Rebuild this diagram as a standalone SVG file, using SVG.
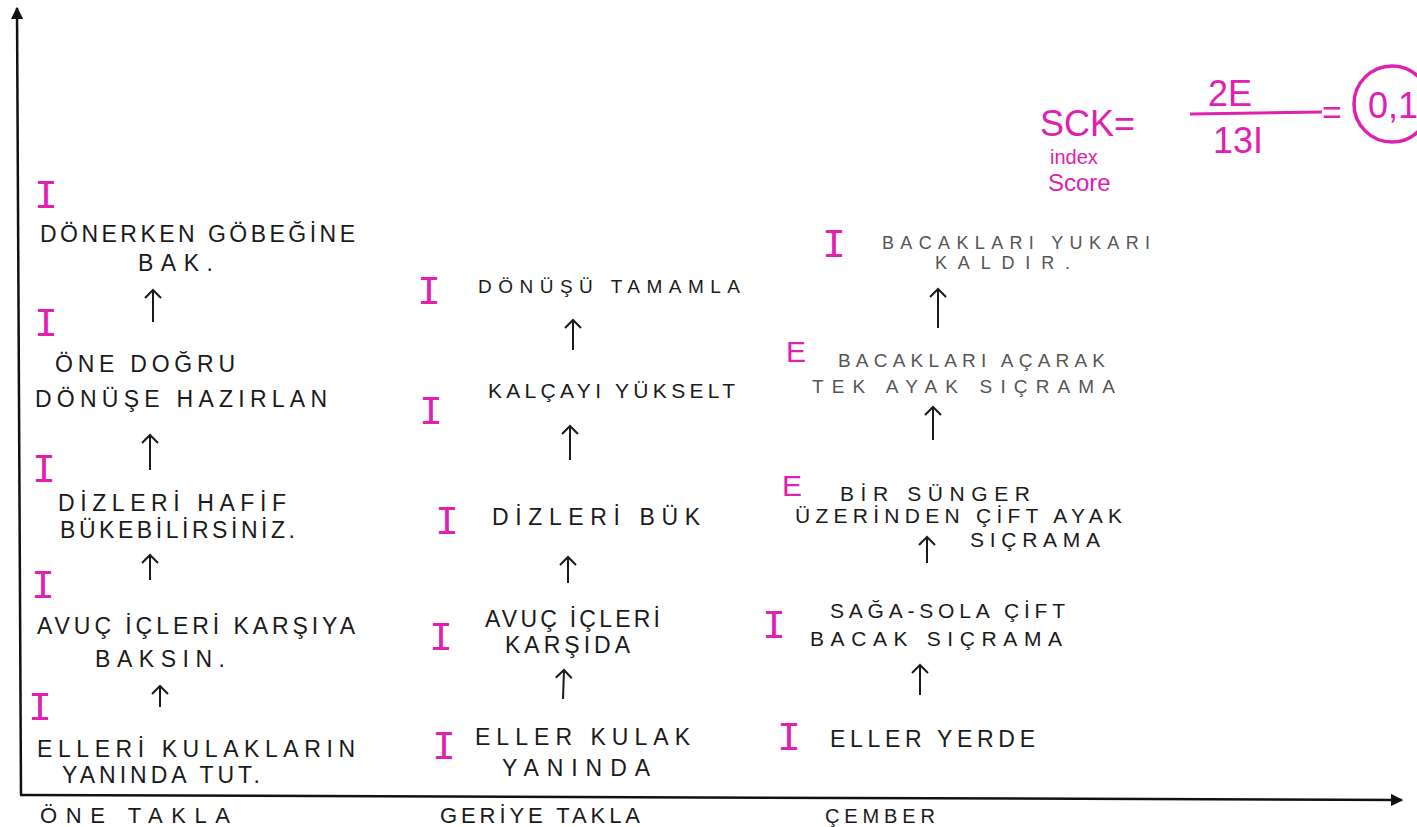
<svg xmlns="http://www.w3.org/2000/svg" width="1417" height="827" viewBox="0 0 1417 827">
<defs>
<style>
.t{font-family:"Liberation Sans","DejaVu Sans",sans-serif;font-size:23px;fill:#1a1a1a;}
.g{fill:#555;}
.m{font-family:"Liberation Sans","DejaVu Sans",sans-serif;fill:#e020b0;}
.mk{font-family:"Liberation Mono","DejaVu Sans Mono",monospace;font-size:40px;fill:#e020b0;}
.lab{font-family:"Liberation Sans","DejaVu Sans",sans-serif;font-size:22px;fill:#1a1a1a;}
.arr{stroke:#1a1a1a;stroke-width:2;fill:none;marker-end:url(#open);}
.axis{stroke:#111;stroke-width:2.5;fill:none;marker-end:url(#solid);}
</style>
<marker id="open" viewBox="0 0 20 20" refX="18" refY="10" markerWidth="20" markerHeight="20" markerUnits="userSpaceOnUse" orient="auto">
<polyline points="10,2 18,10 10,18" fill="none" stroke="#1a1a1a" stroke-width="2"/>
</marker>
<marker id="solid" viewBox="0 0 10 10" refX="9" refY="5" markerWidth="5" markerHeight="5" orient="auto">
<path d="M0,0 L10,5 L0,10 Z" fill="#111"/>
</marker>
</defs>
<rect width="1417" height="827" fill="#fff"/>

<g id="axes">
<path class="axis" d="M21,795 L17,8"/>
<path class="axis" d="M20,795 L1402,800"/>
</g>

<g id="connectors">
<path class="arr" d="M153,322 L153,290"/>
<path class="arr" d="M150,470 L150,435"/>
<path class="arr" d="M150,580 L150,555"/>
<path class="arr" d="M160,707 L160,686"/>
<path class="arr" d="M573,350 L573,320"/>
<path class="arr" d="M570,460 L570,426"/>
<path class="arr" d="M568,583 L568,557"/>
<path class="arr" d="M563,699 L564,670"/>
<path class="arr" d="M938,328 L938,289"/>
<path class="arr" d="M933,440 L933,407"/>
<path class="arr" d="M927,563 L927,537"/>
<path class="arr" d="M920,695 L920,665"/>
</g>

<!-- Column 1: ÖNE TAKLA -->
<g id="c1n5">
<text class="mk" x="34" y="208">I</text>
<text class="t" x="40" y="242" textLength="315" lengthAdjust="spacing">DÖNERKEN GÖBEĞİNE</text>
<text class="t" x="138" y="271" textLength="75" lengthAdjust="spacing">BAK.</text>
</g>
<g id="c1n4">
<text class="mk" x="34" y="336">I</text>
<text class="t" x="55" y="372" textLength="180" lengthAdjust="spacing">ÖNE DOĞRU</text>
<text class="t" x="35" y="407" textLength="292" lengthAdjust="spacing">DÖNÜŞE HAZIRLAN</text>
</g>
<g id="c1n3">
<text class="mk" x="32" y="482">I</text>
<text class="t" x="58" y="511" textLength="228" lengthAdjust="spacing">DİZLERİ HAFİF</text>
<text class="t" x="60" y="538" textLength="235" lengthAdjust="spacing">BÜKEBİLİRSİNİZ.</text>
</g>
<g id="c1n2">
<text class="mk" x="31" y="598">I</text>
<text class="t" x="37" y="634" textLength="318" lengthAdjust="spacing">AVUÇ İÇLERİ KARŞIYA</text>
<text class="t" x="95" y="667" textLength="130" lengthAdjust="spacing">BAKSIN.</text>
</g>
<g id="c1n1">
<text class="mk" x="28" y="720">I</text>
<text class="t" x="37" y="757" textLength="318" lengthAdjust="spacing">ELLERİ KULAKLARIN</text>
<text class="t" x="62" y="783" textLength="198" lengthAdjust="spacing">YANINDA TUT.</text>
</g>
<text id="lab1" class="lab" x="40" y="823" textLength="190" lengthAdjust="spacing">ÖNE TAKLA</text>

<!-- Column 2: GERİYE TAKLA -->
<g id="c2n5">
<text class="mk" x="417" y="304">I</text>
<text class="t" x="478" y="293" textLength="262" lengthAdjust="spacing" style="font-size:19px">DÖNÜŞÜ TAMAMLA</text>
</g>
<g id="c2n4">
<text class="mk" x="419" y="424">I</text>
<text class="t" x="488" y="398" textLength="247" lengthAdjust="spacing" style="font-size:21px">KALÇAYI YÜKSELT</text>
</g>
<g id="c2n3">
<text class="mk" x="435" y="534">I</text>
<text class="t" x="492" y="525" textLength="208" lengthAdjust="spacing">DİZLERİ BÜK</text>
</g>
<g id="c2n2">
<text class="mk" x="429" y="650">I</text>
<text class="t" x="485" y="627" textLength="175" lengthAdjust="spacing">AVUÇ İÇLERİ</text>
<text class="t" x="505" y="653" textLength="125" lengthAdjust="spacing">KARŞIDA</text>
</g>
<g id="c2n1">
<text class="mk" x="432" y="759">I</text>
<text class="t" x="475" y="745" textLength="215" lengthAdjust="spacing">ELLER KULAK</text>
<text class="t" x="502" y="776" textLength="148" lengthAdjust="spacing">YANINDA</text>
</g>
<text id="lab2" class="lab" x="440" y="823" textLength="200" lengthAdjust="spacing">GERİYE TAKLA</text>

<!-- Column 3: ÇEMBER -->
<g id="c3n5">
<text class="mk" x="822" y="257">I</text>
<text class="t g" x="882" y="249" textLength="268" lengthAdjust="spacing" style="font-size:18px">BACAKLARI YUKARI</text>
<text class="t g" x="935" y="269" textLength="135" lengthAdjust="spacing" style="font-size:18px">KALDIR.</text>
</g>
<g id="c3n4">
<text class="m" x="786" y="362" style="font-size:30px">E</text>
<text class="t g" x="838" y="367" textLength="267" lengthAdjust="spacing" style="font-size:19px">BACAKLARI AÇARAK</text>
<text class="t g" x="812" y="393" textLength="303" lengthAdjust="spacing" style="font-size:19px">TEK AYAK SIÇRAMA</text>
</g>
<g id="c3n3">
<text class="m" x="782" y="496" style="font-size:30px">E</text>
<text class="t" x="840" y="501" textLength="190" lengthAdjust="spacing" style="font-size:21px">BİR SÜNGER</text>
<text class="t" x="795" y="523" textLength="327" lengthAdjust="spacing" style="font-size:21px">ÜZERİNDEN ÇİFT AYAK</text>
<text class="t" x="970" y="547" textLength="130" lengthAdjust="spacing" style="font-size:21px">SIÇRAMA</text>
</g>
<g id="c3n2">
<text class="mk" x="762" y="638">I</text>
<text class="t" x="830" y="618" textLength="235" lengthAdjust="spacing" style="font-size:21px">SAĞA-SOLA ÇİFT</text>
<text class="t" x="810" y="646" textLength="252" lengthAdjust="spacing" style="font-size:21px">BACAK SIÇRAMA</text>
</g>
<g id="c3n1">
<text class="mk" x="777" y="750">I</text>
<text class="t" x="830" y="747" textLength="205" lengthAdjust="spacing">ELLER YERDE</text>
</g>
<text id="lab3" class="lab" x="825" y="823" textLength="110" lengthAdjust="spacing" style="font-size:20px">ÇEMBER</text>

<!-- Formula -->
<g id="formula">
<text class="m" x="1040" y="136" style="font-size:36px">SCK=</text>
<text class="m" x="1050" y="164" style="font-size:20px">index</text>
<text class="m" x="1048" y="191" style="font-size:24px">Score</text>
<text class="m" x="1208" y="106" style="font-size:36px">2E</text>
<line x1="1190" y1="114" x2="1322" y2="112" stroke="#e020b0" stroke-width="3"/>
<text class="m" x="1213" y="153" style="font-size:36px">13I</text>
<text class="m" x="1322" y="124" style="font-size:34px">=</text>
<ellipse cx="1392" cy="104" rx="38" ry="38" fill="none" stroke="#e020b0" stroke-width="3.5"/>
<text class="m" x="1368" y="118" style="font-size:36px">0,1</text>
</g>
</svg>
